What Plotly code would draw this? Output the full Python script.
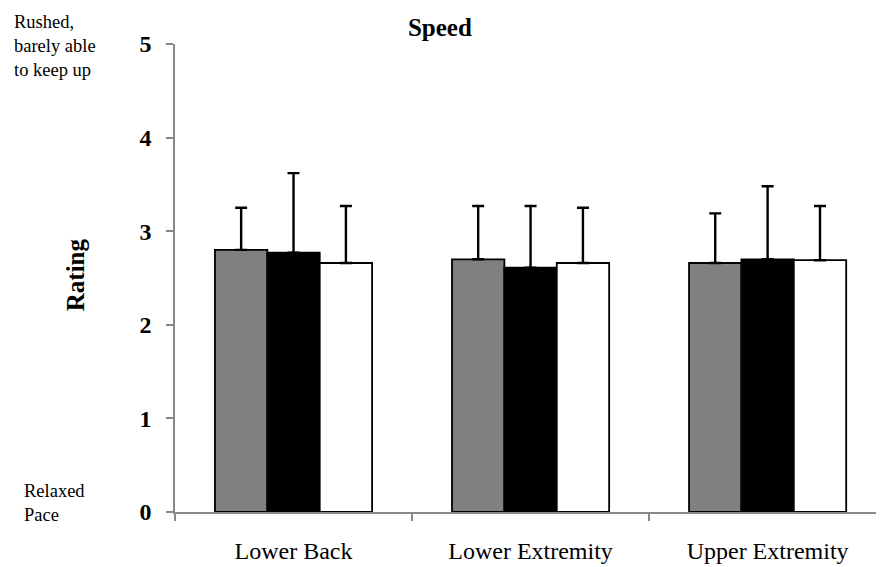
import plotly.graph_objects as go

categories = ["Lower Back", "Lower Extremity", "Upper Extremity"]
series_names = ["Group A", "Group B", "Group C"]
series_colors = ["#808080", "#000000", "#ffffff"]
means = [
    [2.80, 2.70, 2.66],
    [2.77, 2.61, 2.70],
    [2.66, 2.66, 2.69],
]
err_plus = [
    [0.45, 0.57, 0.53],
    [0.85, 0.66, 0.78],
    [0.61, 0.59, 0.58],
]
y_ticks = [0, 1, 2, 3, 4, 5]

FONT = "Liberation Serif, Times New Roman, serif"

fig = go.Figure()
for name, color, m, e in zip(series_names, series_colors, means, err_plus):
    fig.add_trace(go.Bar(
        name=name, x=categories, y=m,
        marker=dict(color=color, line=dict(color="#000000", width=1.8)),
        error_y=dict(type="data", symmetric=False, array=e, arrayminus=[0] * len(e),
                     color="#000000", thickness=2.4, width=6),
    ))

fig.update_layout(
    width=876, height=559,
    margin=dict(l=167, r=0, t=36, b=55, autoexpand=False),
    paper_bgcolor="white", plot_bgcolor="white",
    barmode="group", bargap=0.337, bargroupgap=0,
    showlegend=False,
    font=dict(family=FONT, color="#000000"),
    title=dict(text="Speed", xref="container", x=0.493, xanchor="center",
               yref="container", y=0.966, yanchor="middle",
               font=dict(family=FONT, size=25, color="#000000", weight="bold")),
    xaxis=dict(
        range=[-0.5, 2.491], showline=True, linecolor="#888888", linewidth=1.5,
        ticks="outside", tickson="boundaries", ticklen=7, tickcolor="#888888", tickwidth=1.5,
        tickfont=dict(family=FONT, size=24), showgrid=False, zeroline=False,
        ticklabelstandoff=16,
    ),
    yaxis=dict(
        range=[0, 5], tickvals=y_ticks, showline=True, linecolor="#888888", linewidth=1.5,
        ticks="outside", ticklen=7, tickcolor="#888888", tickwidth=1.5,
        tickfont=dict(family=FONT, size=24, weight="bold"), showgrid=False, zeroline=False,
        ticklabelstandoff=10,
    ),
)

fig.add_annotation(text="Rating", xref="paper", yref="paper", x=-0.141, y=0.506,
                   xanchor="center", yanchor="middle", textangle=-90, showarrow=False,
                   font=dict(family=FONT, size=25, weight="bold"))
fig.add_annotation(text="Rushed,<br>barely able<br>to keep up", xref="paper", yref="paper",
                   x=-0.2305, y=1.073, xanchor="left", yanchor="top", align="left", showarrow=False,
                   font=dict(family=FONT, size=18.5))
fig.add_annotation(text="Relaxed<br>Pace", xref="paper", yref="paper",
                   x=-0.216, y=0.07, xanchor="left", yanchor="top", align="left", showarrow=False,
                   font=dict(family=FONT, size=18.5))

fig.write_html("out.html")
